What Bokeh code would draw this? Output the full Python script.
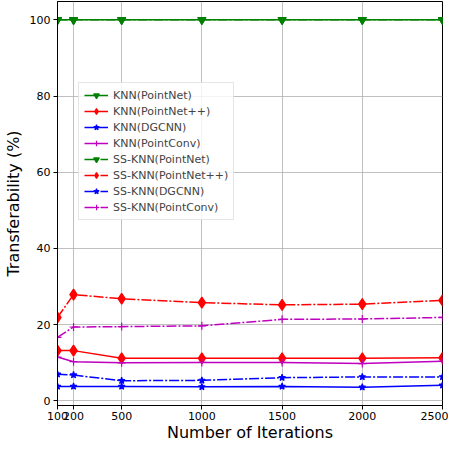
from bokeh.plotting import figure
from bokeh.models import FixedTicker, Range1d
from bokeh.embed import file_html
from bokeh.resources import INLINE

iterations = [100, 200, 500, 1000, 1500, 2000, 2500]

knn_pointnet = [100, 100, 100, 100, 100, 100, 100]
knn_pointnetpp = [13.2, 13.2, 11.2, 11.2, 11.2, 11.2, 11.3]
knn_dgcnn = [3.8, 3.8, 3.8, 3.7, 3.8, 3.6, 4.1]
knn_pointconv = [11.5, 10.3, 10.0, 10.1, 10.1, 9.8, 10.4]

ss_pointnet = [100, 100, 100, 100, 100, 100, 100]
ss_pointnetpp = [21.9, 27.9, 26.8, 25.8, 25.2, 25.4, 26.4]
ss_dgcnn = [7.0, 6.8, 5.3, 5.4, 6.1, 6.3, 6.3]
ss_pointconv = [16.7, 19.4, 19.5, 19.7, 21.4, 21.5, 21.9]

x_ticks = [100, 200, 500, 1000, 1500, 2000, 2500]
y_ticks = [0, 20, 40, 60, 80, 100]

p = figure(output_backend="svg", toolbar_location=None,
           width=448, height=444,
           min_border_left=51, min_border_top=1, min_border_right=6, min_border_bottom=10,
           x_range=Range1d(100, 2500), y_range=Range1d(-1.2, 104.8))

FONT = "DejaVu Sans"
dashdot = "10 2 2 2"

series = [
    ("KNN(PointNet)", knn_pointnet, "green", "inverted_triangle", "solid", 8),
    ("KNN(PointNet++)", knn_pointnetpp, "red", "diamond", "solid", 11),
    ("KNN(DGCNN)", knn_dgcnn, "blue", "star", "solid", 7),
    ("KNN(PointConv)", knn_pointconv, "#bf00bf", "cross", "solid", 8),
    ("SS-KNN(PointNet)", ss_pointnet, "green", "inverted_triangle", dashdot, 8),
    ("SS-KNN(PointNet++)", ss_pointnetpp, "red", "diamond", dashdot, 11),
    ("SS-KNN(DGCNN)", ss_dgcnn, "blue", "star", dashdot, 7),
    ("SS-KNN(PointConv)", ss_pointconv, "#bf00bf", "cross", dashdot, 8),
]

for label, ys, color, marker, dash, size in series:
    p.line(iterations, ys, color=color, line_width=1.5, line_dash=dash, legend_label=label)
    p.scatter(iterations, ys, marker=marker, size=size, color=color, line_width=1.2,
              legend_label=label)

p.xaxis.ticker = FixedTicker(ticks=x_ticks)
p.yaxis.ticker = FixedTicker(ticks=y_ticks)
for ax in (p.xaxis[0], p.yaxis[0]):
    ax.minor_tick_line_color = None
    ax.major_tick_out = 4
    ax.major_tick_in = 0
    ax.major_label_text_font = FONT
    ax.major_label_text_font_size = "11px"
    ax.major_label_text_color = "black"
    ax.axis_label_text_font = FONT
    ax.axis_label_text_font_size = "16px"
    ax.axis_label_text_font_style = "normal"
    ax.axis_label_text_color = "black"
    ax.axis_line_color = "black"
    ax.major_tick_line_color = "black"
p.xaxis.axis_label = "Number of Iterations"
p.yaxis.axis_label = "Transferability (%)"
p.yaxis.major_label_orientation = "horizontal"
p.xaxis.axis_label_standoff = 0
p.xaxis.major_label_standoff = 2
p.yaxis.major_label_standoff = 3
p.yaxis.axis_label_standoff = 4

p.outline_line_color = "black"
p.outline_line_width = 1
p.grid.grid_line_color = "#b0b0b0"
p.grid.grid_line_width = 0.8
p.background_fill_color = "white"
p.border_fill_color = "white"

p.legend.location = (21, 185)
p.legend.label_text_font = FONT
p.legend.label_text_font_size = "11px"
p.legend.label_height = 14
p.legend.glyph_height = 14
p.legend.glyph_width = 24
p.legend.spacing = 2
p.legend.padding = 5
p.legend.margin = 0
p.legend.border_line_color = "#cccccc"
p.legend.border_line_width = 1
p.legend.background_fill_alpha = 0.8

open("out.html", "w").write(file_html(p, INLINE))
